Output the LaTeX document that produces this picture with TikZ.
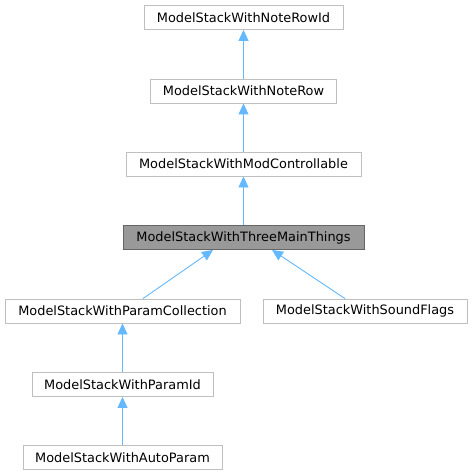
\documentclass[tikz,border=0pt]{standalone}
\usepackage{fontspec}
\setmainfont{DejaVu Sans}
\usetikzlibrary{arrows.meta}
\definecolor{edgeblue}{HTML}{63B8FF}
\definecolor{boxline}{HTML}{BFBFBF}
\definecolor{hlfill}{HTML}{999999}
\definecolor{hlline}{HTML}{666666}
\begin{document}
\begin{tikzpicture}[x=1pt,y=-1pt,
  cls/.style={draw=boxline, line width=0.9pt, fill=white, inner sep=0pt, minimum height=24pt,
    font=\fontsize{12.9}{15}\selectfont, text=black},
  hl/.style={cls, draw=hlline, fill=hlfill},
  inh/.style={draw=edgeblue, line width=0.9pt, -{Triangle[length=11pt,width=10pt,fill=edgeblue]}}]
\useasboundingbox (0,0) rectangle (472,476);
\node[cls, minimum width=199pt] (a) at (243.5,17.5) {ModelStackWithNoteRowId};
\node[cls, minimum width=186pt] (b) at (243.5,91) {ModelStackWithNoteRow};
\node[cls, minimum width=235pt] (c) at (243.5,164) {ModelStackWithModControllable};
\node[hl,  minimum width=241pt] (d) at (243.5,237.5) {ModelStackWithThreeMainThings};
\node[cls, minimum width=235pt] (e) at (122.5,311) {ModelStackWithParamCollection};
\node[cls, minimum width=204pt] (f) at (365,311) {ModelStackWithSoundFlags};
\node[cls, minimum width=181pt] (g) at (122.5,384.5) {ModelStackWithParamId};
\node[cls, minimum width=199pt] (h) at (122.5,457.5) {ModelStackWithAutoParam};
\draw[inh] (b.north) -- (a.south);
\draw[inh] (c.north) -- (b.south);
\draw[inh] (d.north) -- (c.south);
\draw[inh] ([xshift=20.5pt]e.north) -- ([xshift=-30.5pt]d.south);
\draw[inh] ([xshift=-20pt]f.north) -- ([xshift=28.5pt]d.south);
\draw[inh] (g.north) -- (e.south);
\draw[inh] (h.north) -- (g.south);
\end{tikzpicture}
\end{document}
